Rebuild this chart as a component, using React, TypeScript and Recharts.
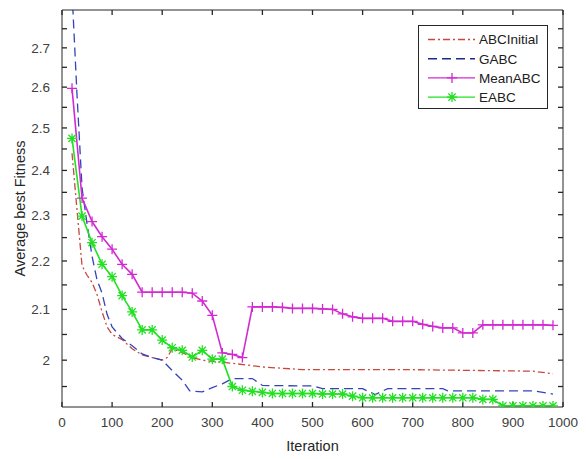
import { LineChart, Line, XAxis, YAxis } from "recharts"

// iterations where MeanABC / EABC were sampled (marker every 20 iterations)
const markIters = [
  20, 40, 60, 80, 100, 120, 140, 160, 180, 200, 220, 240, 260, 280, 300, 320, 340,
  360, 380, 400, 420, 440, 460, 480, 500, 520, 540, 560, 580, 600, 620, 640, 660,
  680, 700, 720, 740, 760, 780, 800, 820, 840, 860, 880, 900, 920, 940, 960, 980,
]

const meanAbcVals = [
  2.597, 2.337, 2.285, 2.252, 2.225, 2.193, 2.172, 2.135, 2.135, 2.135, 2.135, 2.135,
  2.133, 2.117, 2.088, 2.014, 2.011, 2.005, 2.105, 2.105, 2.105, 2.104, 2.102, 2.102,
  2.102, 2.101, 2.1, 2.091, 2.085, 2.082, 2.082, 2.082, 2.076, 2.076, 2.076, 2.07,
  2.066, 2.063, 2.063, 2.053, 2.053, 2.069, 2.069, 2.069, 2.069, 2.069, 2.069, 2.069,
  2.068,
]

const eabcVals = [
  2.475, 2.297, 2.239, 2.193, 2.167, 2.128, 2.095, 2.059, 2.059, 2.039, 2.024, 2.019,
  2.006, 2.019, 2.002, 2.002, 1.95, 1.943, 1.941, 1.939, 1.937, 1.937, 1.937, 1.937,
  1.937, 1.936, 1.936, 1.936, 1.932, 1.929, 1.929, 1.929, 1.929, 1.929, 1.929, 1.929,
  1.929, 1.929, 1.929, 1.929, 1.929, 1.926, 1.926, 1.914, 1.914, 1.914, 1.914, 1.914,
  1.914,
]

const abcInitIters = [20, 30, 40, 50, 60, 70, 80, 90, 100, 120, 140, 160, 180, 200, 210, 220, 240, 260, 280, 340, 400, 480, 680, 940, 980]
const abcInitVals = [
  2.44, 2.31, 2.19, 2.17, 2.155, 2.13, 2.095, 2.065, 2.05, 2.04, 2.022, 2.01, 2.005,
  2.0, 2.005, 2.022, 2.015, 2.005, 2.0, 1.994, 1.987, 1.982, 1.982, 1.979, 1.974,
]

const gabcIters = [20, 30, 40, 50, 60, 70, 80, 90, 100, 120, 140, 160, 180, 200, 220, 240, 255, 280, 300, 320, 340, 380, 400, 500, 520, 600, 625, 650, 760, 770, 940, 980]
const gabcVals = [
  2.85, 2.58, 2.36, 2.28, 2.21, 2.16, 2.133, 2.09, 2.065, 2.042, 2.028, 2.012, 2.005,
  2.0, 1.98, 1.962, 1.942, 1.94, 1.948, 1.955, 1.965, 1.965, 1.952, 1.951, 1.946,
  1.946, 1.935, 1.946, 1.946, 1.942, 1.942, 1.936,
]

const xTicks = [0, 100, 200, 300, 400, 500, 600, 700, 800, 900, 1000]
const yTicks = [1.95, 2, 2.05, 2.1, 2.15, 2.2, 2.25, 2.3, 2.35, 2.4, 2.45, 2.5, 2.55, 2.6, 2.65, 2.7, 2.75]
const yLabels = ["", "2", "", "2.1", "", "2.2", "", "2.3", "", "2.4", "", "2.5", "", "2.6", "", "2.7", ""]

const meanAbcData = markIters.map((iter, i) => ({ iter, v: meanAbcVals[i] }))
const eabcData = markIters.map((iter, i) => ({ iter, v: eabcVals[i] }))
const abcInitData = abcInitIters.map((iter, i) => ({ iter, v: abcInitVals[i] }))
const gabcData = gabcIters.map((iter, i) => ({ iter, v: gabcVals[i] }))

const FONT = "'Liberation Sans', Arial, Helvetica, sans-serif"
const AXIS = "#262626"
const TICK_TEXT = "#404040"

const C_INIT = "#c8473f"
const C_GABC = "#3344bb"
const C_MEAN = "#d22ad2"
const C_EABC = "#22e022"

const tickStyle = { fill: TICK_TEXT, fontSize: 13.5, fontFamily: FONT }
const tickLineStyle = { stroke: AXIS, strokeWidth: 1.3 }
const yLabel = (v: number) => {
  const i = yTicks.findIndex((t) => Math.abs(t - v) < 1e-6)
  return i >= 0 ? yLabels[i] : ""
}

function PlusDot(props: any) {
  const { cx, cy, index } = props
  if (cx == null || cy == null) return <g key={`p${index}`} />
  return (
    <path key={`p${index}`} d={`M${cx - 5},${cy}H${cx + 5}M${cx},${cy - 5}V${cy + 5}`} stroke={C_MEAN} strokeWidth={1.3} fill="none" />
  )
}

function StarDot(props: any) {
  const { cx, cy, index } = props
  if (cx == null || cy == null) return <g key={`s${index}`} />
  const r = 5
  const d = 3.6
  return (
    <path
      key={`s${index}`}
      d={`M${cx - r},${cy}H${cx + r}M${cx},${cy - r}V${cy + r}M${cx - d},${cy - d}L${cx + d},${cy + d}M${cx - d},${cy + d}L${cx + d},${cy - d}`}
      stroke={C_EABC}
      strokeWidth={1.3}
      fill="none"
    />
  )
}

const legendItems = [
  { name: "ABCInitial", color: C_INIT, dash: "7 3 2 3", marker: "" },
  { name: "GABC", color: "#1c2a8a", dash: "9 5", marker: "" },
  { name: "MeanABC", color: C_MEAN, dash: "", marker: "plus" },
  { name: "EABC", color: C_EABC, dash: "", marker: "star" },
]

function LegendBox() {
  return (
    <div
      style={{
        position: "absolute",
        left: 418,
        top: 25,
        width: 130,
        height: 84,
        border: `1px solid ${AXIS}`,
        background: "#fff",
        boxSizing: "border-box",
      }}
    >
      <svg width={128} height={82}>
        {legendItems.map((it, i) => {
          const y = 13.5 + i * 19.2
          const mx = 33
          return (
            <g key={it.name}>
              <line x1={9} x2={56} y1={y} y2={y} stroke={it.color} strokeWidth={1.4} strokeDasharray={it.dash || undefined} />
              {it.marker === "plus" && (
                <path d={`M${mx - 5},${y}H${mx + 5}M${mx},${y - 5}V${y + 5}`} stroke={it.color} strokeWidth={1.3} />
              )}
              {it.marker === "star" && (
                <path
                  d={`M${mx - 5},${y}H${mx + 5}M${mx},${y - 5}V${y + 5}M${mx - 3.6},${y - 3.6}L${mx + 3.6},${y + 3.6}M${mx - 3.6},${y + 3.6}L${mx + 3.6},${y - 3.6}`}
                  stroke={it.color}
                  strokeWidth={1.3}
                />
              )}
              <text x={60} y={y} dy="0.36em" fontSize={13.5} fontFamily={FONT} fill="#202020">
                {it.name}
              </text>
            </g>
          )
        })}
      </svg>
    </div>
  )
}

export default function App() {
  return (
    <div style={{ position: "absolute", left: 0, top: 0, width: 586, height: 459, background: "#fff" }}>
      <LineChart width={586} height={459} margin={{ top: 9, right: 22, bottom: 0, left: 0 }}>
        <XAxis
          xAxisId="bottom"
          type="number"
          dataKey="iter"
          domain={[0, 1000]}
          ticks={xTicks}
          interval={0}
          allowDataOverflow
          height={52}
          tickSize={-5}
          tickMargin={15}
          tickLine={tickLineStyle}
          axisLine={{ stroke: AXIS }}
          tick={tickStyle}
          label={{ value: "Iteration", position: "insideBottom", offset: 8, fill: "#262626", fontSize: 14.5, fontFamily: FONT }}
        />
        <XAxis
          xAxisId="top"
          orientation="top"
          type="number"
          dataKey="iter"
          domain={[0, 1000]}
          ticks={xTicks}
          interval={0}
          allowDataOverflow
          height={1}
          tickSize={-5}
          tickMargin={0}
          tickLine={tickLineStyle}
          axisLine={{ stroke: AXIS }}
          tickFormatter={() => ""}
        />
        <YAxis
          yAxisId="left"
          scale="log"
          type="number"
          domain={[1.912, 2.8]}
          ticks={yTicks}
          interval={0}
          allowDataOverflow
          width={62}
          tickSize={-5}
          tickMargin={17}
          tickLine={tickLineStyle}
          axisLine={{ stroke: AXIS }}
          tick={tickStyle}
          tickFormatter={yLabel}
          label={{ value: "Average best Fitness", angle: -90, position: "insideLeft", offset: 20, style: { textAnchor: "middle" }, fill: "#262626", fontSize: 14.5, fontFamily: FONT }}
        />
        <YAxis
          yAxisId="right"
          orientation="right"
          scale="log"
          type="number"
          domain={[1.912, 2.8]}
          ticks={yTicks}
          interval={0}
          allowDataOverflow
          width={1}
          tickSize={-5}
          tickMargin={0}
          tickLine={tickLineStyle}
          axisLine={{ stroke: AXIS }}
          tickFormatter={() => ""}
        />
        {/* invisible series so the mirrored top/right axes are laid out */}
        <Line xAxisId="top" yAxisId="right" data={eabcData} dataKey="v" stroke="none" dot={false} activeDot={false} legendType="none" isAnimationActive={false} />
        <Line xAxisId="bottom" yAxisId="left" data={abcInitData} dataKey="v" name="ABCInitial" stroke={C_INIT} strokeWidth={1.3} strokeDasharray="7 3 2 3" dot={false} isAnimationActive={false} />
        <Line xAxisId="bottom" yAxisId="left" data={gabcData} dataKey="v" name="GABC" stroke={C_GABC} strokeWidth={1.3} strokeDasharray="9 5" dot={false} isAnimationActive={false} />
        <Line xAxisId="bottom" yAxisId="left" data={meanAbcData} dataKey="v" name="MeanABC" stroke={C_MEAN} strokeWidth={1.6} dot={PlusDot} isAnimationActive={false} />
        <Line xAxisId="bottom" yAxisId="left" data={eabcData} dataKey="v" name="EABC" stroke={C_EABC} strokeWidth={1.6} dot={StarDot} isAnimationActive={false} />
      </LineChart>
      <LegendBox />
    </div>
  )
}
